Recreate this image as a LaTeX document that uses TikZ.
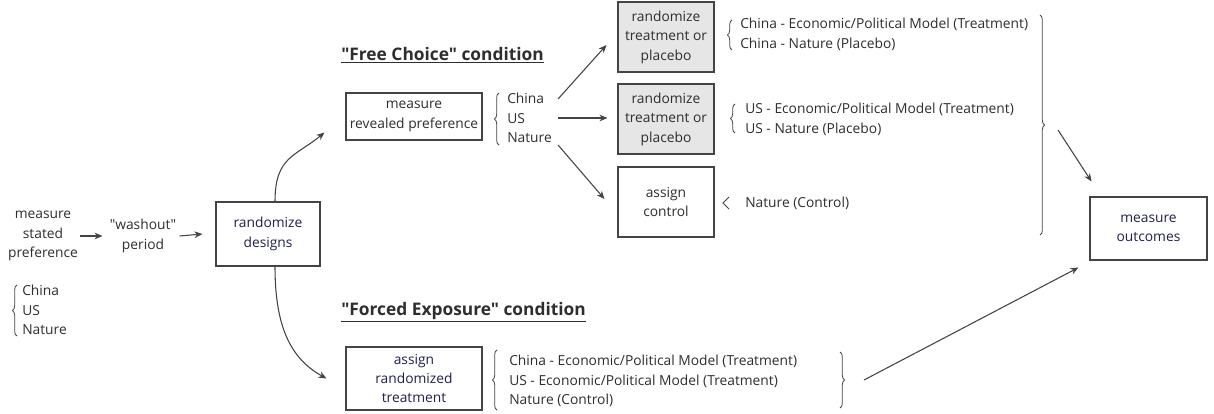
\documentclass[tikz,border=0pt]{standalone}
\usepackage{fontspec}
\setmainfont{Open Sans}
\newfontfamily\osans{Open Sans}
\usetikzlibrary{arrows.meta,decorations.pathreplacing,calc}
\definecolor{txt}{HTML}{2E2E2E}
\definecolor{navy}{HTML}{20204F}
\definecolor{edge}{HTML}{444444}
\definecolor{boxfill}{HTML}{E6E6E6}
\newcommand{\dq}{\symbol{34}}
\begin{document}
\begin{tikzpicture}[x=0.75pt,y=-0.75pt,
 every node/.style={text=txt, font=\osans\fontsize{10.35}{14.6}\selectfont, inner sep=0pt},
 box/.style={draw=edge, line width=0.8pt, align=center},
 arr/.style={draw=edge, line width=0.8pt, -{Stealth[length=6pt,width=5pt]}},
 br/.style={draw=edge, line width=0.6pt, decorate, decoration={brace,amplitude=3.5pt}},
 lst/.style={anchor=west, align=left},
 plain/.style={align=center},
 ttl/.style={anchor=west, font=\osans\bfseries\fontsize{13}{15}\selectfont}]
\useasboundingbox[fill=white] (0,0) rectangle (1214,414);

% left part
\node[plain] (stated) at (43,236) {measure\\stated\\preference};
\node[plain] (washout) at (143,236) {\dq washout\dq\\period};
\node[box, minimum width=78pt, minimum height=48pt, text=navy] (designs) at (268,234) {randomize\\designs};
\node[lst] (leftlist) at (22,310) {China\\US\\Nature};
\draw[br] (17,336) -- (17,285);

\draw[arr] ($(stated.east)+(2,0)$) -- ($(washout.west)+(-7,0)$);
\draw[arr] ($(washout.east)+(3,0)$) -- ($(designs.west)+(-13,0)$);

% Free choice
\node[ttl] (fctitle) at (341,55) {\underline{\dq Free Choice\dq{} condition}};
\node[box, minimum width=102pt, minimum height=35.25pt] (revealed) at (414,116.5) {measure\\revealed preference};
\node[lst] (fclist) at (507,118) {China\\US\\Nature};
\draw[br] (499,145) -- (499,93);

\node[box, fill=boxfill, minimum width=72pt, minimum height=52.5pt] (box1) at (666,37) {randomize\\treatment or\\placebo};
\node[box, fill=boxfill, minimum width=72pt, minimum height=52.5pt] (box2) at (666,119) {randomize\\treatment or\\placebo};
\node[box, minimum width=72pt, minimum height=52.5pt] (box3) at (666,202) {assign\\control};

\node[lst] (list1) at (740,34.5) {China - Economic/Political Model (Treatment)\\China - Nature (Placebo)};
\draw[br] (732,50) -- (732,20);
\node[lst] (list2) at (745,119.5) {US - Economic/Political Model (Treatment)\\US - Nature (Placebo)};
\draw[br] (735,133) -- (735,104);
\node[lst] (ctrl) at (745,203) {Nature (Control)};
\draw[draw=edge, line width=0.6pt] ($(ctrl.west)+(-16,-6)$) -- ($(ctrl.west)+(-22,0)$) -- ($(ctrl.west)+(-16,6)$);

\draw[br] (1040,15) -- (1040,235);
\coordinate (bigtip) at (1047,125);

\draw[arr] ($(fclist.east)+(6,-19)$) -- ($(box1.west)+(-11,8)$);
\draw[arr] ($(fclist.east)+(6,0)$) -- ($(box2.west)+(-10,-1)$);
\draw[arr] ($(fclist.east)+(6,27)$) -- ($(box3.west)+(-13,-3)$);

% outcomes
\node[box, minimum width=87.75pt, minimum height=47.25pt, text=navy] (outcomes) at (1148.5,228.5) {measure\\outcomes};
\draw[arr] ($(bigtip)+(11,5)$) -- ($(outcomes.north west)+(2,-15)$);

% Forced exposure
\node[ttl] (fetitle) at (341,312) {\underline{\dq Forced Exposure\dq{} condition}};
\node[box, minimum width=102pt, minimum height=47.25pt, text=navy] (forced) at (414,378.5) {assign\\randomized\\treatment};
\node[lst] (felist) at (509,381) {China - Economic/Political Model (Treatment)\\US - Economic/Political Model (Treatment)\\Nature (Control)};
\draw[br] (497,410) -- (497,350);
\draw[br] (840,352) -- (840,408);
\coordinate (fetip) at (848,380);
\draw[arr] ($(fetip)+(16,0)$) -- ($(outcomes.south west)+(-11,7)$);

% curved arrows
\draw[arr] ($(designs.north)+(7,0)$) .. controls ($(designs.north)+(7,-45)$) and ($(revealed.west)+(-50,40)$) .. ($(revealed.west)+(-21,16)$);
\draw[arr] ($(designs.south)+(7,0)$) .. controls ($(designs.south)+(7,60)$) and ($(forced.west)+(-55,-20)$) .. ($(forced.west)+(-19,0)$);
\end{tikzpicture}
\end{document}
